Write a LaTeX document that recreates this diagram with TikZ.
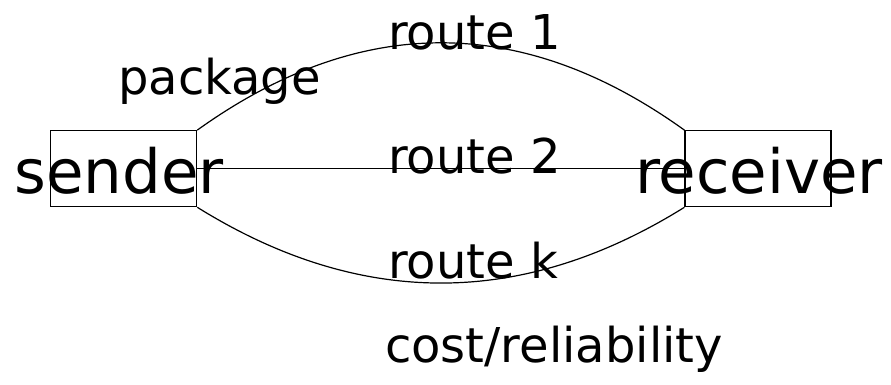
\documentclass[tikz,border=0pt]{standalone}
\usepackage{fontspec}
\setmainfont{DejaVu Sans}
\begin{document}
\begin{tikzpicture}[x=1pt,y=-1pt,
  box/.style={draw,line width=1.2pt,minimum width=146pt,minimum height=76pt,inner sep=0pt},
  lbl/.style={anchor=base west,inner sep=0pt,font=\fontsize{48}{48}\selectfont},
  big/.style={anchor=base,inner sep=0pt,font=\fontsize{61}{61}\selectfont},
  link/.style={line width=1.2pt}]
\useasboundingbox (0,0) rectangle (891,385);
\node[box] (s) at (123.7,168.7) {};
\node[box] (r) at (758,168.7) {};
\draw[link] (s.north east) .. controls (359.7,13.7) and (522.3,13.7) .. (r.north west);
\draw[link] (s.east) -- (r.west);
\draw[link] (s.south east) .. controls (359.7,308.3) and (522.3,308.3) .. (r.south west);
\node[big] (st) at (119,193) {sender};
\node[big] (rt) at (759,193) {receiver};
\node[lbl] (r1) at (388,50) {route 1};
\node[lbl] (r2) at (388,173) {route 2};
\node[lbl] (rk) at (388,278) {route k};
\node[lbl] (pk) at (118,95) {package};
\node[lbl] (cr) at (385,362) {cost/reliability};
\end{tikzpicture}
\end{document}
